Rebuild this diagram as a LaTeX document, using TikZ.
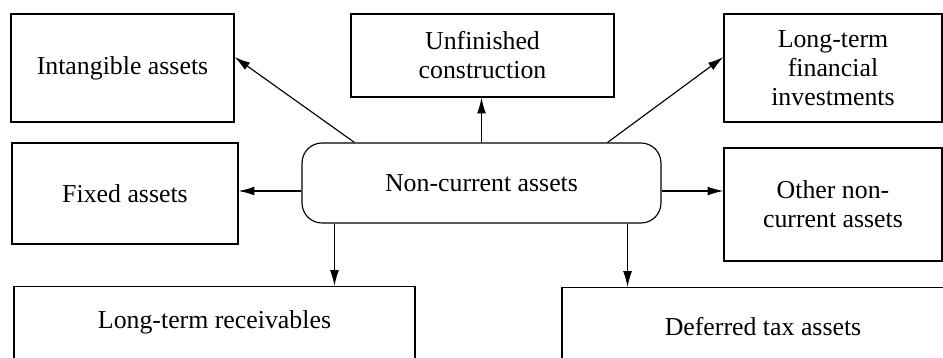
\documentclass[tikz,border=0pt]{standalone}
\usepackage{fontspec}
\setmainfont{Liberation Serif}
\usetikzlibrary{arrows.meta}
\begin{document}
\begin{tikzpicture}[x=0.02cm, y=-0.02cm,
    box/.style={draw, line width=0.65pt, align=center, inner sep=0pt},
    arr/.style={-{Latex[length=9pt, width=5pt]}, line width=0.65pt},
    font=\fontsize{14.7}{16.5}\selectfont]
    \useasboundingbox (0, 0) rectangle (943, 358);
    \clip (0, 0) rectangle (943, 358);
    \node[box, minimum width=4.46cm, minimum height=2.16cm] (intang) at (122.5, 68) {Intangible assets};
    \node[box, minimum width=5.26cm, minimum height=1.66cm] (unfin) at (482.5, 55.5) {Unfinished\\construction};
    \node[box, minimum width=4.36cm, minimum height=2.16cm] (ltfin) at (833, 68) {Long-term\\financial\\investments};
    \node[box, minimum width=4.52cm, minimum height=2.02cm] (fixed) at (125, 193.5) {Fixed assets};
    \node[box, rounded corners=0.4cm, minimum width=7.18cm, minimum height=1.6cm] (nca) at (481.5, 183) {Non-current assets};
    \node[box, minimum width=4.36cm, minimum height=2.26cm] (other) at (833, 204.5) {Other non-\\current assets};
    \node[box, minimum width=8.02cm, minimum height=2cm, anchor=north] (ltrec) at (214.5, 286) {};
    \node (ltrectext) at (214.5, 322) {Long-term receivables};
    \node[box, minimum width=8.04cm, minimum height=2cm, anchor=north] (deftax) at (763, 287) {};
    \node (deftaxtext) at (763, 327) {Deferred tax assets};
    \coordinate (ncal) at ([yshift=-0.16cm]nca.west);
    \coordinate (ncar) at ([yshift=-0.16cm]nca.east);
    \coordinate (ncbl) at ([xshift=0.66cm]nca.south west);
    \coordinate (ncbr) at ([xshift=-0.68cm]nca.south east);
    \draw[arr] ([xshift=1.06cm]nca.north west) -- ([yshift=0.22cm]intang.east);
    \draw[arr] (nca.north) -- (nca.north |- unfin.south);
    \draw[arr] ([xshift=-1.08cm]nca.north east) -- ([yshift=0.22cm]ltfin.west);
    \draw[arr] (ncal) -- (ncal -| fixed.east);
    \draw[arr] (ncar) -- (ncar -| other.west);
    \draw[arr] (ncbl) -- (ncbl |- ltrec.north);
    \draw[arr] (ncbr) -- (ncbr |- deftax.north);
\end{tikzpicture}
\end{document}
